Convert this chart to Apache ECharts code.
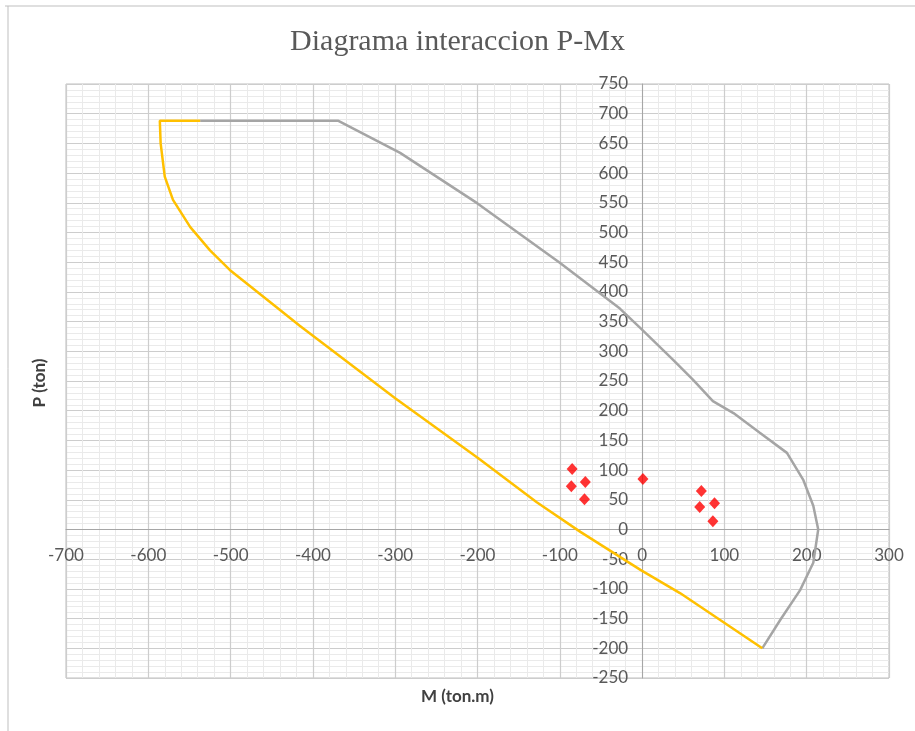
<!DOCTYPE html>
<html>
<head>
<meta charset="utf-8">
<script src="https://cdn.jsdelivr.net/npm/echarts@6/dist/echarts.min.js"></script>
<style>
  html, body { margin: 0; padding: 0; background: #ffffff; }
  #chart { width: 915px; height: 731px; }
</style>
</head>
<body>
<div id="chart"></div>
<script>
// Interaction diagram P-Mx: nominal capacity curve, design curve and load demands
const chartTitle = 'Diagrama interaccion P-Mx';
const xAxisName = 'M (ton.m)';
const yAxisName = 'P (ton)';

// Capacity curve (M, P)
const capacityCurve = [
  [-537, 688], [-369, 688], [-294, 634], [-200, 549], [-100, 449], [-27, 372],
  [-2, 339], [38, 285], [62, 252], [86, 216], [111, 196], [143, 163],
  [176, 129], [196, 83], [208, 40], [214, 0], [208, -56], [192, -102],
  [168, -152], [146, -200]
];

// Design curve (M, P)
const designCurve = [
  [-537, 688], [-586, 688], [-585, 650], [-580, 594], [-570, 555], [-549, 509],
  [-525, 470], [-501, 437], [-443, 373], [-416, 343], [-300, 221], [-199, 120],
  [-128, 46], [-75, -4], [-2, -68], [46, -107], [146, -200]
];

// Load combinations (M, P)
const demands = [
  [-85, 102], [-86, 73], [-69, 80], [-70, 51], [1, 85],
  [72, 65], [70, 38], [88, 44], [86, 14]
];

// Axis ranges
const xMin = -700, xMax = 300, xStep = 100;
const yMin = -250, yMax = 750, yStep = 50;

// Plot area in pixels
const plotLeft = 66, plotTop = 84, plotWidth = 823, plotHeight = 594;
// Axes cross at M = 0 and P = 0: shift each axis from the plot edge to the zero line
const yAxisShift = -plotWidth * (0 - xMin) / (xMax - xMin);
const xAxisShift = -plotHeight * (0 - yMin) / (yMax - yMin);

const labelFont = { color: '#595959', fontFamily: 'Lato', fontSize: 17 };

const chart = echarts.init(document.getElementById('chart'), null, { renderer: 'canvas' });
chart.setOption({
  animation: false,
  backgroundColor: '#ffffff',
  title: {
    text: chartTitle,
    left: 'center',
    top: 22,
    textStyle: { fontFamily: 'Liberation Serif', fontWeight: 'normal', fontSize: 30, color: '#595959' }
  },
  grid: {
    left: plotLeft, top: plotTop, width: plotWidth, height: plotHeight,
    show: true, borderColor: '#BFBFBF', borderWidth: 1, backgroundColor: 'transparent'
  },
  xAxis: {
    type: 'value',
    position: 'bottom',
    offset: xAxisShift,
    min: xMin, max: xMax, interval: xStep,
    axisLine: { onZero: false, lineStyle: { color: '#A6A6A6', width: 1 } },
    axisTick: { show: false },
    axisLabel: Object.assign({ margin: 18, showMinLabel: true, showMaxLabel: true }, labelFont),
    splitLine: { show: true, lineStyle: { color: '#CDCDCD', width: 1.2 } },
    minorTick: { show: false, splitNumber: 5 },
    minorSplitLine: { show: true, lineStyle: { color: '#EAEAEA', width: 1 } }
  },
  yAxis: {
    type: 'value',
    position: 'left',
    offset: yAxisShift,
    min: yMin, max: yMax, interval: yStep,
    axisLine: { onZero: false, lineStyle: { color: '#A6A6A6', width: 1 } },
    axisTick: { show: false },
    axisLabel: Object.assign({ margin: 14, showMinLabel: true, showMaxLabel: true }, labelFont),
    splitLine: { show: true, lineStyle: { color: '#CDCDCD', width: 1.2 } },
    minorTick: { show: false, splitNumber: 5 },
    minorSplitLine: { show: true, lineStyle: { color: '#EAEAEA', width: 1 } }
  },
  graphic: [
    { type: 'line', shape: { x1: 5, y1: 6, x2: 915, y2: 6 }, style: { stroke: '#BFBFBF', lineWidth: 1 } },
    { type: 'line', shape: { x1: 8, y1: 6, x2: 8, y2: 731 }, style: { stroke: '#BFBFBF', lineWidth: 1 } },
    {
      type: 'text', left: 'center', top: 688,
      style: { text: xAxisName, font: 'bold 17px Lato', fill: '#404040' }
    },
    {
      type: 'text', x: 40, y: 383, rotation: Math.PI / 2,
      style: { text: yAxisName, font: 'bold 17px Lato', fill: '#404040', align: 'center', verticalAlign: 'middle' }
    }
  ],
  series: [
    {
      name: 'Capacidad', type: 'line', data: capacityCurve,
      showSymbol: false, smooth: false,
      lineStyle: { color: '#A5A5A5', width: 2.5 }, z: 2
    },
    {
      name: 'Diseño', type: 'line', data: designCurve,
      showSymbol: false, smooth: false,
      lineStyle: { color: '#FFC000', width: 2.5 }, z: 3
    },
    {
      name: 'Cargas', type: 'scatter', data: demands,
      symbol: 'diamond', symbolSize: [11, 12],
      itemStyle: { color: '#FF0000' }, z: 4
    }
  ]
});
</script>
</body>
</html>
